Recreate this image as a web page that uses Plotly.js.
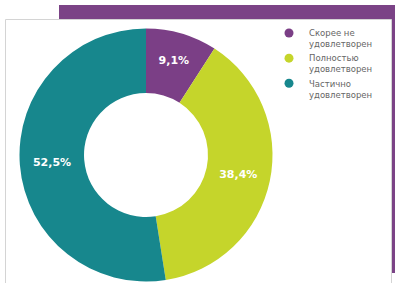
<!DOCTYPE html>
<html>
<head>
<meta charset="utf-8">
<script src="https://cdn.plot.ly/plotly-3.0.1.min.js"></script>
<style>html,body{margin:0;padding:0;background:#fff;}#chart{width:398px;height:283px;}</style>
</head>
<body>
<div id="chart"></div>
<script>
const categories = ['Скорее не удовлетворен', 'Полностью удовлетворен', 'Частично удовлетворен'];
const legendLabels = ['Скорее не<br>удовлетворен', 'Полностью<br>удовлетворен', 'Частично<br>удовлетворен'];
const values = [9.1, 38.4, 52.5];
const colors = ['#7B3F86', '#C5D52B', '#17878D'];

const W = 398, H = 283;
const cx = 146, cy = 155, r = 126.5;

const pie = {
  type: 'pie',
  labels: categories,
  values: values,
  sort: false,
  direction: 'clockwise',
  rotation: 0,
  hole: 0.49,
  marker: {colors: colors, line: {width: 0}},
  texttemplate: '%{value:.1f}%',
  textposition: 'inside',
  insidetextorientation: 'horizontal',
  textfont: {family: 'DejaVu Sans', size: 11, color: '#ffffff', weight: 'bold'},
  domain: {x: [(cx - r) / W, (cx + r) / W], y: [(H - cy - r) / H, (H - cy + r) / H]},
  showlegend: false,
  hoverinfo: 'none'
};

const legendTraces = categories.map((c, i) => ({
  type: 'scatter',
  mode: 'markers',
  x: [null], y: [null],
  name: legendLabels[i],
  marker: {color: colors[i], size: 9, symbol: 'circle'},
  showlegend: true,
  hoverinfo: 'none'
}));

const layout = {
  width: W, height: H,
  margin: {l: 0, r: 0, t: 0, b: 0},
  paper_bgcolor: '#ffffff',
  plot_bgcolor: 'rgba(0,0,0,0)',
  separators: ', ',
  xaxis: {visible: false},
  yaxis: {visible: false},
  showlegend: true,
  legend: {
    x: 269 / W, xanchor: 'left',
    y: 1 - 21 / H, yanchor: 'top',
    valign: 'top',
    tracegroupgap: 0,
    itemclick: false,
    font: {family: 'DejaVu Sans', size: 8.5, color: '#666666'},
    bgcolor: 'rgba(0,0,0,0)'
  },
  shapes: [
    {type: 'rect', xref: 'paper', yref: 'paper', layer: 'below',
     x0: 59 / W, x1: 395 / W, y0: 1 - 273 / H, y1: 1 - 5 / H,
     fillcolor: '#7B4386', line: {width: 0}},
    {type: 'rect', xref: 'paper', yref: 'paper', layer: 'below',
     x0: 5.5 / W, x1: 391.5 / W, y0: -0.05, y1: 1 - 19.5 / H,
     fillcolor: '#ffffff', line: {width: 1, color: '#d4d4d4'}}
  ]
};

Plotly.newPlot('chart', [pie].concat(legendTraces), layout, {displayModeBar: false, staticPlot: true});
</script>
</body>
</html>
